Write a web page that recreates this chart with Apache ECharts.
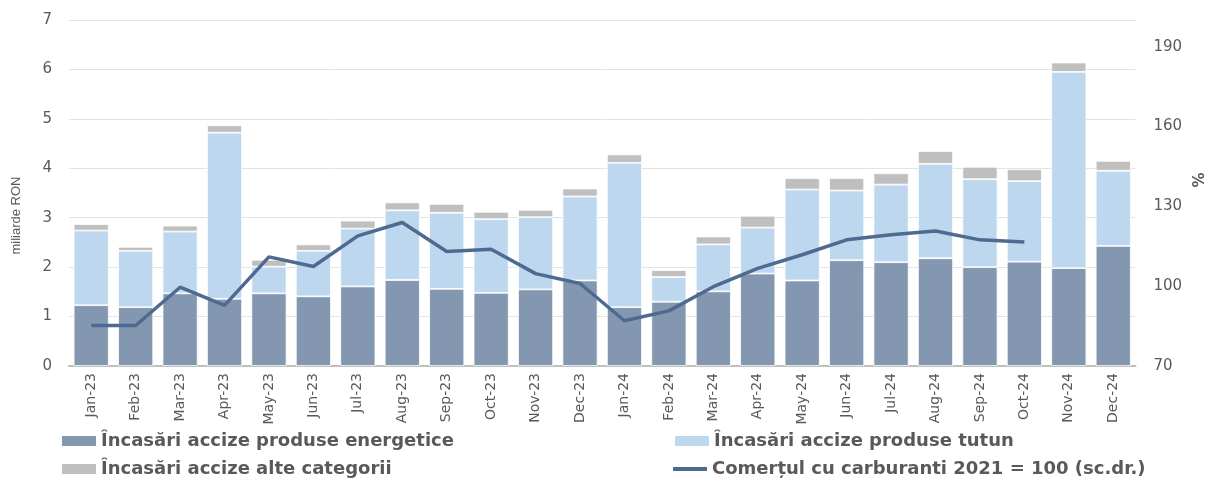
<!DOCTYPE html>
<html>
<head>
<meta charset="utf-8">
<script src="https://cdn.jsdelivr.net/npm/echarts@6/dist/echarts.min.js"></script>
<style>
  html, body { margin: 0; padding: 0; background: #fff; }
  #chart { width: 1216px; height: 480px; }
</style>
</head>
<body>
<div id="chart"></div>
<script>
var months = ['Jan-23', 'Feb-23', 'Mar-23', 'Apr-23', 'May-23', 'Jun-23', 'Jul-23', 'Aug-23', 'Sep-23', 'Oct-23', 'Nov-23', 'Dec-23',
  'Jan-24', 'Feb-24', 'Mar-24', 'Apr-24', 'May-24', 'Jun-24', 'Jul-24', 'Aug-24', 'Sep-24', 'Oct-24', 'Nov-24', 'Dec-24']
// miliarde RON
var energetice = [1.23, 1.19, 1.47, 1.36, 1.47, 1.41, 1.61, 1.74, 1.56, 1.48, 1.55, 1.73,
  1.19, 1.30, 1.51, 1.87, 1.73, 2.14, 2.10, 2.18, 2.00, 2.11, 1.98, 2.43]
var tutun = [1.51, 1.14, 1.25, 3.36, 0.54, 0.92, 1.17, 1.41, 1.54, 1.49, 1.46, 1.70,
  2.92, 0.50, 0.95, 0.93, 1.84, 1.41, 1.57, 1.91, 1.78, 1.63, 3.97, 1.52]
var alte = [0.13, 0.08, 0.12, 0.15, 0.14, 0.13, 0.16, 0.16, 0.18, 0.15, 0.15, 0.16,
  0.17, 0.14, 0.16, 0.24, 0.23, 0.25, 0.23, 0.26, 0.25, 0.24, 0.19, 0.20]
// 2021 = 100, scala dreapta
var carburanti = [85.2, 85.2, 99.6, 92.8, 111.0, 107.4, 118.9, 123.9, 113.0, 113.9, 104.7, 101.0,
  87.0, 90.7, 99.8, 106.7, 111.8, 117.4, 119.3, 120.7, 117.4, 116.6, null, null]

var names = ['Încasări accize produse energetice', 'Încasări accize produse tutun',
  'Încasări accize alte categorii', 'Comerțul cu carburanti 2021 = 100 (sc.dr.)']

var chart = echarts.init(document.getElementById('chart'))
var font = 'DejaVu Sans'
var legendText = { color: '#595959', fontFamily: font, fontWeight: 'bold', fontSize: 18 }
var barBorder = { borderColor: '#ffffff', borderWidth: 0.8 }

function legendAt (name, left, top, h) {
  return {
    data: [{ name: name, icon: 'rect', itemStyle: { borderWidth: 0 } }],
    left: left,
    top: top,
    itemWidth: 34,
    itemHeight: h,
    itemGap: 0,
    padding: 0,
    textStyle: legendText
  }
}

var option = {
  animation: false,
  color: ['#8497b0', '#bdd7ee', '#bfbfbf', '#4f6a91'],
  grid: { left: 69, right: 49, top: 20, bottom: 114 },
  legend: [
    legendAt(names[0], 62, 432, 10),
    legendAt(names[1], 675, 432, 10),
    legendAt(names[2], 62, 460, 10),
    legendAt(names[3], 673, 460, 4)
  ],
  xAxis: {
    type: 'category',
    data: months,
    axisTick: { show: false },
    axisLine: { lineStyle: { color: '#bfbfbf', width: 2 } },
    axisLabel: { interval: 0, rotate: 90, margin: 7, color: '#595959', fontFamily: font, fontSize: 14 }
  },
  yAxis: [
    {
      type: 'value',
      min: 0,
      max: 7,
      interval: 1,
      name: 'miliarde RON',
      nameLocation: 'middle',
      nameGap: 46,
      nameTextStyle: { color: '#595959', fontFamily: 'Liberation Sans', fontSize: 13, padding: [0, 0, 0, -45] },
      axisLine: { show: false },
      axisTick: { show: false },
      axisLabel: { color: '#595959', fontFamily: font, fontSize: 15, margin: 17 },
      splitLine: { lineStyle: { color: '#e3e3e3', width: 1 } }
    },
    {
      type: 'value',
      min: 70,
      max: 200,
      interval: 30,
      name: '%',
      nameLocation: 'middle',
      nameGap: 33,
      nameTextStyle: { color: '#595959', fontFamily: font, fontWeight: 'bold', fontSize: 15, padding: [0, 0, 0, 26] },
      axisLine: { show: false },
      axisTick: { show: false },
      axisLabel: { color: '#595959', fontFamily: font, fontSize: 15, margin: 18, showMaxLabel: false },
      splitLine: { show: false }
    }
  ],
  series: [
    {
      name: names[0],
      type: 'bar',
      stack: 'accize',
      barCategoryGap: '21%',
      itemStyle: barBorder,
      data: energetice
    },
    {
      name: names[1],
      type: 'bar',
      stack: 'accize',
      itemStyle: barBorder,
      data: tutun
    },
    {
      name: names[2],
      type: 'bar',
      stack: 'accize',
      itemStyle: barBorder,
      data: alte
    },
    {
      name: names[3],
      type: 'line',
      yAxisIndex: 1,
      data: carburanti,
      symbol: 'none',
      lineStyle: { width: 3.5 },
      z: 5
    }
  ]
}
chart.setOption(option)
</script>
</body>
</html>
